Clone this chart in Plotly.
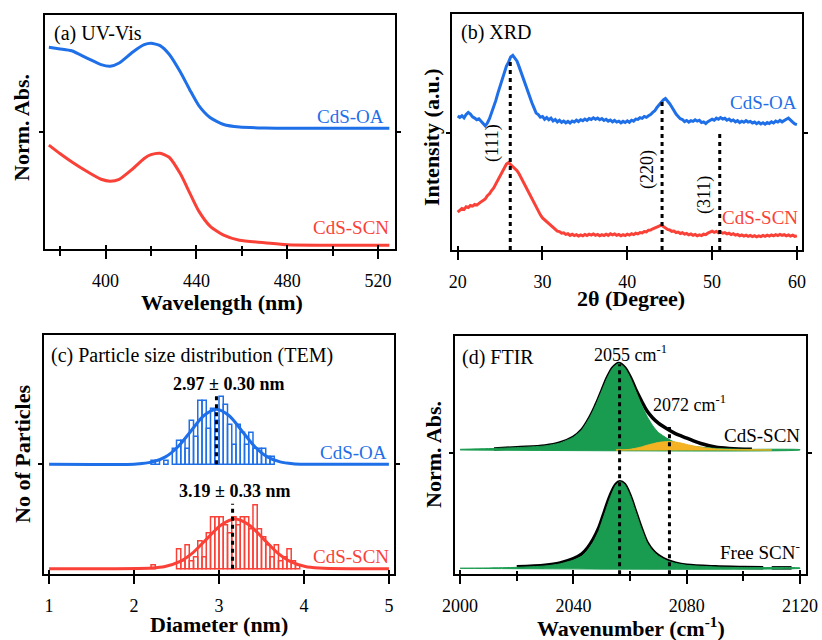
import plotly.graph_objects as go

# ---------------- data ----------------
# (a) UV-Vis
uv_wl = [375, 380, 385, 392, 398, 402, 406, 412, 417, 420, 424, 428, 433, 437, 441, 446, 452, 459, 470, 480, 500, 525]
uv_oa = [0.862, 0.855, 0.847, 0.815, 0.788, 0.781, 0.795, 0.842, 0.873, 0.879, 0.869, 0.832, 0.755, 0.682,
         0.614, 0.562, 0.532, 0.521, 0.517, 0.516, 0.516, 0.516]
uv_scn = [0.444, 0.407, 0.373, 0.330, 0.298, 0.290, 0.298, 0.343, 0.387, 0.403, 0.409, 0.392, 0.320, 0.241,
          0.163, 0.098, 0.059, 0.037, 0.027, 0.018, 0.016, 0.016]

# (b) XRD, 2theta from 20 to 60 in 0.25 steps
xrd_2theta = [20 + 0.25 * i for i in range(161)]
xrd_oa = [
    56.8, 56.2, 56.9, 56.0, 57.4, 58.3, 57.6, 56.4, 55.9, 55.2, 55.6, 54.4, 53.6, 52.6, 53.8, 55.6,
    58.0, 60.6, 63.4, 66.6, 69.4, 72.7, 75.3, 77.9, 79.6, 81.8, 82.5, 81.2, 80.0, 77.6, 75.0, 72.2,
    69.8, 67.6, 65.2, 62.4, 60.2, 58.0, 57.4, 56.3, 56.6, 55.4, 56.1, 55.2, 55.9, 54.7, 55.3, 54.3,
    55.0, 54.1, 54.6, 53.9, 54.5, 53.8, 54.6, 54.2, 55.0, 54.4, 55.2, 54.8, 55.5, 54.9, 55.7, 55.3,
    56.0, 55.4, 55.9, 55.2, 55.7, 54.9, 55.4, 54.6, 55.1, 54.3, 54.9, 54.2, 54.6, 53.9, 54.5, 54.0,
    54.7, 54.1, 55.0, 54.6, 55.5, 55.3, 56.1, 55.8, 56.6, 56.2, 56.9, 57.4, 58.3, 59.0, 60.4, 61.5,
    62.8, 63.6, 64.2, 63.3, 62.0, 60.6, 59.0, 57.6, 56.6, 55.6, 55.3, 54.4, 54.9, 54.2, 54.8, 54.5,
    55.2, 54.6, 55.0, 54.0, 54.3, 53.6, 54.4, 54.8, 55.4, 55.0, 55.9, 55.4, 56.1, 55.5, 55.8, 55.0,
    55.5, 54.7, 55.1, 54.3, 54.8, 54.0, 54.6, 54.1, 54.8, 54.2, 54.5, 53.8, 54.2, 53.5, 54.1, 53.4,
    53.9, 53.3, 54.0, 53.6, 54.3, 53.8, 54.6, 54.2, 54.9, 54.3, 55.0, 55.4, 55.9, 54.8, 54.2, 53.4,
    53.1]
xrd_scn = [
    16.0, 16.9, 17.6, 17.2, 18.3, 18.0, 18.9, 18.6, 19.3, 19.0, 19.9, 20.4, 21.0, 21.6, 23.0, 23.8,
    25.2, 26.3, 28.0, 29.6, 31.6, 33.4, 35.0, 36.4, 37.0, 36.2, 35.0, 34.3, 33.6, 32.2, 30.5, 28.8,
    27.0, 25.2, 23.6, 21.6, 19.9, 18.0, 16.4, 14.9, 13.6, 12.8, 11.6, 10.9, 10.0, 9.2, 8.8, 8.0,
    7.8, 7.1, 7.3, 6.6, 6.9, 6.2, 6.7, 6.1, 6.5, 5.9, 6.4, 6.0, 6.6, 6.1, 6.7, 6.3,
    6.8, 6.2, 6.6, 6.0, 6.5, 6.1, 6.7, 6.2, 6.9, 6.4, 6.8, 6.2, 6.6, 6.0, 6.5, 6.1,
    6.7, 6.3, 6.9, 6.5, 7.1, 6.8, 7.4, 7.2, 7.8, 7.7, 8.4, 8.5, 9.0, 9.3, 9.8, 10.1,
    10.6, 10.0, 9.4, 8.7, 8.5, 7.9, 8.0, 7.4, 7.6, 7.0, 7.3, 6.7, 7.0, 6.4, 6.8, 6.2,
    6.6, 6.0, 6.4, 6.1, 6.7, 6.5, 7.2, 7.6, 8.0, 7.5, 7.9, 7.3, 7.6, 7.1, 7.4, 6.8,
    7.1, 6.5, 6.9, 6.3, 6.6, 6.0, 6.4, 5.9, 6.3, 5.8, 6.2, 5.7, 6.1, 5.6, 6.0, 5.7,
    6.2, 5.8, 6.3, 5.9, 6.4, 6.0, 6.5, 6.1, 6.6, 6.2, 6.5, 6.0, 6.4, 5.9, 6.3, 5.8,
    6.0]
hkl_pos = [26.2, 44.1, 50.9]
hkl_top = [80.5, 63.6, 49.4]
hkl_labels = ["(111)", "(220)", "(311)"]

# (c) TEM size histograms (bin start, nm; bin width 0.05)
bin_width = 0.05
hist_oa_start = [2.20, 2.25, 2.35, 2.45, 2.50, 2.55, 2.60, 2.65, 2.70, 2.75, 2.80, 2.85, 2.90, 2.95, 3.00,
                 3.05, 3.10, 3.15, 3.20, 3.25, 3.30, 3.35, 3.40, 3.45, 3.50, 3.55, 3.60]
hist_oa = [1, 1, 1, 4, 6, 6, 4, 11, 7, 16, 16, 9, 14, 11, 17, 15, 10, 5, 10, 8, 5, 8, 4, 4, 4, 2, 2]
hist_scn_start = [2.20, 2.50, 2.55, 2.60, 2.65, 2.70, 2.75, 2.80, 2.85, 2.90, 2.95, 3.00, 3.05, 3.10, 3.15,
                  3.20, 3.25, 3.30, 3.35, 3.40, 3.45, 3.50, 3.55, 3.60, 3.65, 3.70, 3.75, 3.80, 3.85, 3.90]
hist_scn = [1, 5, 2, 6, 2, 3, 7, 3, 9, 13, 13, 13, 11, 9, 13, 11, 13, 13, 10, 16, 10, 8, 6, 3, 6, 2, 3, 5, 2, 1]
fit_oa_x = [1.0, 2.0, 2.07, 2.22, 2.37, 2.52, 2.67, 2.82, 2.97, 3.12, 3.27, 3.42, 3.57, 3.72, 3.87, 4.0, 5.0]
fit_oa = [0, 0.02, 0.15, 0.60, 1.86, 4.46, 8.34, 12.13, 13.75, 12.13, 8.34, 4.46, 1.86, 0.60, 0.15, 0.03, 0]
fit_scn_x = [1.0, 2.05, 2.20, 2.365, 2.53, 2.695, 2.86, 3.025, 3.19, 3.355, 3.52, 3.685, 3.85, 4.015, 4.18, 4.3, 5.0]
fit_scn = [0, 0.03, 0.14, 0.54, 1.68, 4.03, 7.52, 10.94, 12.4, 10.94, 7.52, 4.03, 1.68, 0.54, 0.14, 0.03, 0]
mean_oa, mean_scn = 2.97, 3.16
size_labels = ["2.97 \u00b1 0.30 nm", "3.19 \u00b1 0.33 nm"]

# (d) FTIR (normalised)
ftir_top_x = [2000, 2010, 2020, 2030, 2035, 2040, 2043, 2046, 2048, 2050, 2052, 2054, 2056, 2058, 2060, 2062,
              2064, 2066, 2068, 2070, 2073, 2076, 2080, 2090, 2100, 2120]
ftir_top_green = [0.008, 0.016, 0.027, 0.047, 0.078, 0.148, 0.233, 0.389, 0.525, 0.681, 0.837, 0.953, 1.0,
                  0.953, 0.837, 0.681, 0.525, 0.389, 0.280, 0.202, 0.136, 0.086, 0.051, 0.019, 0.008, 0.004]
ftir_orange_x = [2055, 2058, 2060, 2062, 2064, 2066, 2068, 2070, 2073.5, 2076, 2078, 2080, 2083, 2086, 2090,
                 2095, 2100, 2110]
ftir_orange = [0, 0.002, 0.008, 0.02, 0.035, 0.055, 0.072, 0.087, 0.097, 0.092, 0.08, 0.064, 0.042, 0.025,
               0.012, 0.005, 0.002, 0]
ftir_fit_top_x = [2012, 2020, 2030, 2035, 2040, 2043, 2046, 2048, 2050, 2052, 2054, 2056, 2058, 2060, 2062,
                  2064, 2066, 2068, 2070, 2073, 2076, 2079, 2082, 2085, 2090, 2095, 2103]
ftir_fit_top = [0.012, 0.027, 0.047, 0.078, 0.148, 0.233, 0.389, 0.525, 0.681, 0.837, 0.953, 1.0, 0.955,
                0.845, 0.70, 0.57, 0.45, 0.37, 0.31, 0.245, 0.19, 0.15, 0.11, 0.075, 0.035, 0.018, 0.008]
ftir_bot_x = [2000, 2010, 2020, 2030, 2035, 2040, 2043, 2045, 2047, 2049, 2051, 2053, 2055, 2056.4, 2058,
              2060, 2062, 2064, 2066, 2068, 2070, 2073, 2076, 2080, 2090, 2100, 2120]
ftir_bot_green = [0.0, 0.004, 0.011, 0.027, 0.049, 0.095, 0.141, 0.209, 0.304, 0.437, 0.627, 0.817, 0.962,
                  1.0, 0.970, 0.837, 0.646, 0.456, 0.293, 0.200, 0.141, 0.087, 0.057, 0.034, 0.015, 0.008, 0.004]
ftir_fit_bot_x = [2020, 2030, 2035, 2040, 2043, 2045, 2047, 2049, 2051, 2053, 2055, 2056.4, 2058, 2060, 2062,
                  2064, 2066, 2068, 2070, 2073, 2076, 2080, 2090, 2100, 2107, None, 2110, 2117]
ftir_fit_bot = [0.017, 0.036, 0.06, 0.112, 0.167, 0.238, 0.338, 0.472, 0.66, 0.842, 0.97, 1.0, 0.972, 0.84,
                0.65, 0.46, 0.298, 0.205, 0.146, 0.091, 0.06, 0.036, 0.017, 0.009, 0.006, None, 0.005, 0.005]
ftir_peaks = [2056.3, 2073.9]
ftir_peak_labels = ["2055 cm<sup>-1</sup>", "2072 cm<sup>-1</sup>"]

# ---------------- style / layout ----------------
W, H = 822, 640
FONT = "Liberation Serif"
BLUE = "#1e6fe8"
RED = "#fa4137"
GREEN = "#1a9c50"
ORANGE = "#f5b323"


def px(x):
    return x / W


def py(y):
    return 1 - y / H


fig = go.Figure()
DOT = dict(color="black", width=3, dash="4px,4px")

# (a)
fig.add_trace(go.Scatter(x=uv_wl, y=uv_oa, mode="lines", xaxis="x", yaxis="y",
                         line=dict(color=BLUE, width=3, shape="spline", smoothing=0.6)))
fig.add_trace(go.Scatter(x=uv_wl, y=uv_scn, mode="lines", xaxis="x", yaxis="y",
                         line=dict(color=RED, width=3, shape="spline", smoothing=0.6)))

# (b)
fig.add_trace(go.Scatter(x=xrd_2theta, y=xrd_oa, mode="lines", xaxis="x2", yaxis="y2",
                         line=dict(color=BLUE, width=3)))
fig.add_trace(go.Scatter(x=xrd_2theta, y=xrd_scn, mode="lines", xaxis="x2", yaxis="y2",
                         line=dict(color=RED, width=3)))
for p, t in zip(hkl_pos, hkl_top):
    fig.add_trace(go.Scatter(x=[p, p], y=[0, t], mode="lines", xaxis="x2", yaxis="y2", line=DOT))

# (c)
OFF_C = 26.08
fig.add_trace(go.Bar(x=[s + bin_width / 2 for s in hist_oa_start], y=hist_oa, base=OFF_C, width=bin_width,
                     xaxis="x3", yaxis="y3",
                     marker=dict(color="rgba(255,255,255,0)", line=dict(color=BLUE, width=1.5))))
fig.add_trace(go.Bar(x=[s + bin_width / 2 for s in hist_scn_start], y=hist_scn, base=0, width=bin_width,
                     xaxis="x3", yaxis="y3",
                     marker=dict(color="rgba(255,255,255,0)", line=dict(color=RED, width=1.5))))
fig.add_trace(go.Scatter(x=fit_oa_x, y=[v + OFF_C for v in fit_oa], mode="lines", xaxis="x3", yaxis="y3",
                         line=dict(color=BLUE, width=3, shape="spline", smoothing=0.8)))
fig.add_trace(go.Scatter(x=fit_scn_x, y=fit_scn, mode="lines", xaxis="x3", yaxis="y3",
                         line=dict(color=RED, width=3, shape="spline", smoothing=0.8)))
fig.add_trace(go.Scatter(x=[mean_oa, mean_oa], y=[OFF_C, 43.7], mode="lines", xaxis="x3", yaxis="y3", line=DOT))
fig.add_trace(go.Scatter(x=[mean_scn, mean_scn], y=[0, 16.2], mode="lines", xaxis="x3", yaxis="y3", line=DOT))

# (d)
OFF_D = 1.368


def poly(xs, ys, off):
    return list(xs) + [xs[-1], xs[0]], [v + off for v in ys] + [off, off]


fig.add_trace(go.Scatter(x=ftir_fit_top_x, y=[v + OFF_D for v in ftir_fit_top], mode="lines",
                         xaxis="x4", yaxis="y4", line=dict(color="black", width=3.5, shape="spline")))
gx, gy = poly(ftir_top_x, ftir_top_green, OFF_D)
fig.add_trace(go.Scatter(x=gx, y=gy, mode="lines", fill="toself", fillcolor=GREEN, xaxis="x4", yaxis="y4",
                         line=dict(color=GREEN, width=1, shape="spline", smoothing=0.6)))
ox, oy = poly(ftir_orange_x, ftir_orange, OFF_D)
fig.add_trace(go.Scatter(x=ox, y=oy, mode="lines", fill="toself", fillcolor=ORANGE, xaxis="x4", yaxis="y4",
                         line=dict(color=ORANGE, width=1, shape="spline", smoothing=0.6)))
fig.add_trace(go.Scatter(x=ftir_fit_bot_x, y=ftir_fit_bot, mode="lines",
                         xaxis="x4", yaxis="y4", line=dict(color="black", width=3.5, shape="spline")))
bx, by = poly(ftir_bot_x, ftir_bot_green, 0)
fig.add_trace(go.Scatter(x=bx, y=by, mode="lines", fill="toself", fillcolor=GREEN, xaxis="x4", yaxis="y4",
                         line=dict(color=GREEN, width=1, shape="spline", smoothing=0.6)))
fig.add_trace(go.Scatter(x=[ftir_peaks[0]] * 2, y=[-0.07, 2.36], mode="lines", xaxis="x4", yaxis="y4", line=DOT))
fig.add_trace(go.Scatter(x=[ftir_peaks[1]] * 2, y=[-0.07, 1.634], mode="lines", xaxis="x4", yaxis="y4", line=DOT))

TF = dict(family=FONT, size=18, color="black")


def xax(dom, rng, tick0, dtick, minor, anchor):
    d = dict(domain=[px(dom[0]), px(dom[1])], range=rng, anchor=anchor, showline=True, linewidth=2,
             linecolor="black", mirror=True, ticks="outside", ticklen=8, tickwidth=2, tickcolor="black",
             tickfont=TF, showgrid=False, zeroline=False, tick0=tick0, dtick=dtick, ticklabelstandoff=6,
             automargin=False)
    if minor:
        d["minor"] = dict(ticks="outside", ticklen=5, tickwidth=2, tickcolor="black", dtick=minor, tick0=tick0,
                          showgrid=False)
    return d


def xov(base, rng, tick0, dtick, minor, anchor):
    d = dict(overlaying=base, range=rng, anchor=anchor, showline=False, ticks="inside", ticklen=4, tickwidth=2,
             tickcolor="black", showticklabels=False, showgrid=False, zeroline=False, tick0=tick0, dtick=dtick,
             automargin=False)
    if minor:
        d["minor"] = dict(ticks="inside", ticklen=3, tickwidth=2, tickcolor="black", dtick=minor, tick0=tick0,
                          showgrid=False)
    return d


def yax(dom, rng, tickval, anchor):
    return dict(domain=[py(dom[1]), py(dom[0])], range=rng, anchor=anchor, showline=True, linewidth=2,
                linecolor="black", mirror="ticks", ticks="outside", ticklen=4, tickwidth=2, tickcolor="black",
                tickmode="array", tickvals=[tickval], showticklabels=False, showgrid=False, zeroline=False,
                automargin=False)


RA, RB, RC, RD = [373.3, 527.5], [19.33, 60.6], [0.94, 5.06], [1998.2, 2122.1]
layout = dict(
    width=W, height=H, margin=dict(l=0, r=0, t=0, b=0, pad=0, autoexpand=False), autosize=False,
    paper_bgcolor="white", plot_bgcolor="white",
    showlegend=False, barmode="overlay", font=dict(family=FONT, color="black"),
    xaxis=xax([45, 395], RA, 400, 40, 20, "y"),
    xaxis2=xax([452, 802], RB, 20, 10, None, "y2"),
    xaxis3=xax([44, 394], RC, 1, 1, None, "y3"),
    xaxis4=xax([455, 806], RD, 2000, 40, 20, "y4"),
    xaxis5=xov("x", RA, 400, 40, 20, "y"),
    xaxis6=xov("x2", RB, 20, 10, None, "y2"),
    xaxis7=xov("x3", RC, 1, 1, None, "y3"),
    xaxis8=xov("x4", RD, 2000, 40, 20, "y4"),
    yaxis=yax([15, 249], [0, 1], 0.502, "x"),
    yaxis2=yax([14, 250], [0, 100], 49.6, "x2"),
    yaxis3=yax([335, 574], [-1.33, 58.4], OFF_C, "x3"),
    yaxis4=yax([336, 574], [-0.066, 2.686], 1.333, "x4"),
)
fig.update_layout(**layout)
# placeholder traces so the overlay (inner-tick) axes are drawn
for xa, ya, r in [("x5", "y", RA), ("x6", "y2", RB), ("x7", "y3", RC), ("x8", "y4", RD)]:
    fig.add_trace(go.Scatter(x=[r[0]], y=[None], mode="lines", xaxis=xa, yaxis=ya, hoverinfo="skip"))

ann = []


def A(text, x, y, size, color="black", xanchor="center", yanchor="middle", angle=0, bold=False):
    ann.append(dict(text=("<b>%s</b>" % text) if bold else text, x=px(x), y=py(y), xref="paper", yref="paper",
                    showarrow=False, xanchor=xanchor, yanchor=yanchor, textangle=angle,
                    font=dict(family=FONT, size=size, color=color)))


# panel titles
A("(a) UV-Vis", 52, 34, 20, xanchor="left")
A("(b) XRD", 459, 33, 20, xanchor="left")
A("(c) Particle size distribution (TEM)", 49, 355, 20, xanchor="left")
A("(d) FTIR", 460, 357, 20, xanchor="left")
# sample labels
A("CdS-OA", 386, 116, 19, BLUE, xanchor="right")
A("CdS-SCN", 391, 228, 19, RED, xanchor="right")
A("CdS-OA", 799, 103, 19, BLUE, xanchor="right")
A("CdS-SCN", 800, 218, 19, RED, xanchor="right")
A("CdS-OA", 389, 452, 19, BLUE, xanchor="right")
A("CdS-SCN", 391, 556, 19, RED, xanchor="right")
A("CdS-SCN", 802, 435, 19, xanchor="right")
A("Free SCN<sup>-</sup>", 802, 551, 19, xanchor="right")
# hkl labels
for lab, (xx, yy) in zip(hkl_labels, [(493, 143), (647, 170), (704, 195)]):
    A(lab, xx, yy, 18, angle=-90)
# size labels
A(size_labels[0], 228, 384, 18, bold=True)
A(size_labels[1], 234, 491, 18, bold=True)
# FTIR peak labels
A(ftir_peak_labels[0], 630, 353, 18)
A(ftir_peak_labels[1], 689, 403, 18)
# axis titles
A("Wavelength (nm)", 222, 302, 22, bold=True)
A("2\u03b8 (Degree)", 631, 298, 22, bold=True)
A("Diameter (nm)", 219, 624, 22, bold=True)
A("Wavenumber (cm<sup>-1</sup>)", 631, 627, 22, bold=True)
A("Norm. Abs.", 22, 128, 22, angle=-90, bold=True)
A("Intensity (a.u.)", 431, 137, 22, angle=-90, bold=True)
A("No of Particles", 22, 454, 22, angle=-90, bold=True)
A("Norm. Abs.", 433, 455, 22, angle=-90, bold=True)
fig.update_layout(annotations=ann)

fig.write_html("out.html", config={"displayModeBar": False, "responsive": False},
               post_script="document.body.style.margin='0';document.body.style.overflow='hidden';")
